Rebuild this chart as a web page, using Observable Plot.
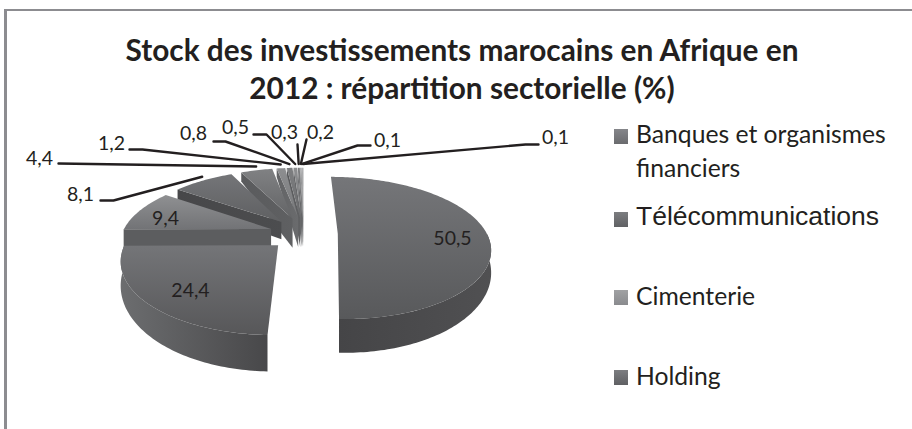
<!DOCTYPE html>
<html><head><meta charset="utf-8">
<script src="https://cdn.jsdelivr.net/npm/d3@7"></script>
<script src="https://cdn.jsdelivr.net/npm/@observablehq/plot@0.6"></script>
<style>
html,body{margin:0;padding:0;background:#fff}
#page{position:relative;width:912px;height:429px;overflow:hidden;font-family:Lato,sans-serif;color:#231f20}
#frame{position:absolute;left:4px;top:9px;width:912px;height:430px;border-left:3px solid #8c8c90;border-top:2.5px solid #8c8c90;box-sizing:border-box}
#page svg{position:absolute;left:0;top:0}
h1{position:absolute;left:62px;width:800px;top:31px;margin:0;text-align:center;font:bold 29.8px/38px Lato,sans-serif}
.lg{position:absolute;font-size:24.7px;line-height:34px;left:636px;white-space:nowrap}
.sw{position:absolute;left:614px;width:14px;height:15px}
</style></head><body>
<div id="page"><div id="frame"></div></div>
<script>
const values = [50.5, 24.4, 9.4, 8.1, 4.4, 1.2, 0.8, 0.5, 0.3, 0.2, 0.1, 0.1];
const valueLabels = ["50,5","24,4","9,4","8,1","4,4","1,2","0,8","0,5","0,3","0,2","0,1","0,1"];
const titleLines = ["Stock des investissements marocains en Afrique en", "2012 : répartition sectorielle (%)"];
const legendLabels = ["Banques et organismes", "financiers", "Télécommunications", "Cimenterie", "Holding"];

// Style of each slice: [top light, top dark, wall light, wall dark]
const sliceColors = [
  ["#757679","#58595b","#454547","#505052"],
  ["#747578","#575759","#6c6d6f","#48484a"],
  ["#8f9092","#727376","#5c5d5f","#5c5d5f"],
  ["#747578","#5f6062","#474749","#4c4d4f"],
  ["#808183","#636466","#5a5b5d","#5f6062"],
  ["#8d8e90","#77787a","#636466","#6a6b6d"],
  ["#7d7e80","#6a6b6d","#58595b","#606163"],
  ["#8d8e90","#77787a","#636466","#6a6b6d"],
  ["#7d7e80","#6a6b6d","#58595b","#606163"],
  ["#9a9b9d","#808183","#636466","#6a6b6d"],
  ["#8d8e90","#77787a","#6a6b6d","#707173"],
  ["#a0a1a3","#8a8b8d","#74757a","#808183"]
];
// Perspective pie layout
const cx = 303, cy = 233, Rx = 149, Ry = 71, explode = 0.23, persp = 0.2, depthBase = 19.5, thinApexDrop = 12;
// Placement of outside labels: [label x, label y, leader start x, leader start y, knee x, knee y]
const labelLayout = {
  4:[39,158,58,163,58,163],
  3:[80,194,100,200,113,200],
  5:[111,143,129,149,142,149],
  6:[193,133,213,141,225,141],
  7:[235,127,253,134,266,134],
  8:[284,132,297,144,297,144],
  9:[320,132,306,139,306,139],
  10:[387,140,370,145,357,145],
  11:[555,137,538,144,525,144]
};
const insideLabels = {0:[452,238], 1:[190,290], 2:[165,218]};

const total = d3.sum(values);
let acc = 0;
const slices = values.map((v,i) => {
  const a0 = acc/total*2*Math.PI; acc += v;
  const a1 = acc/total*2*Math.PI;
  return {i, a0, a1, mid:(a0+a1)/2};
});
function project(s, rho, a, drop){
  const u = rho*Math.sin(a) + explode*Math.sin(s.mid);
  const v = -rho*Math.cos(a) - explode*Math.cos(s.mid);
  const k = 1 + persp*v;
  return {x: cx + u*Rx*k, y: cy + v*Ry*k + (drop ? depthBase*k*k*k : 0)};
}
function arc(s, from, to, drop){
  const n = Math.max(2, Math.ceil((to-from)/0.02));
  return d3.range(n+1).map(j => project(s, 1, from+(to-from)*j/n, drop));
}
const pieces = [];
const gradient = [];
slices.slice().sort((p,q)=>{
  const rank = s => s.i===0 ? -2 : s.i===1 ? -1 : s.i;
  return rank(q)-rank(p);
}).forEach(s => {
  const col = sliceColors[s.i];
  gradient.push(`<linearGradient id="t${s.i}" x1="0" y1="0" x2="0" y2="1"><stop offset="0" stop-color="${col[0]}"/><stop offset="1" stop-color="${col[1]}"/></linearGradient>`);
  gradient.push(`<linearGradient id="w${s.i}" x1="0" y1="0" x2="1" y2="0"><stop offset="0" stop-color="${col[2]}"/><stop offset="1" stop-color="${col[3]}"/></linearGradient>`);
  if (s.i >= 2) {
    const apex = project(s,0,0,true);
    if (s.i >= 4) apex.y += thinApexDrop;
    pieces.push({fill:`url(#w${s.i})`, pts:[project(s,0,0,false),project(s,1,s.a0,false),project(s,1,s.a0,true),apex]});
  }
  const from = Math.max(s.a0, Math.PI/2), to = Math.min(s.a1, 1.5*Math.PI);
  if (to > from) {
    pieces.push({fill:`url(#w${s.i})`, pts:[...arc(s,from,to,false), ...arc(s,from,to,true).reverse()]});
  }
  pieces.push({fill:`url(#t${s.i})`, pts:[project(s,0,0,false), ...arc(s,s.a0,s.a1,false)]});
});

const leaders = Object.entries(labelLayout).map(([i,l]) => {
  const s = slices[+i], p = project(s,1.02,s.mid,false);
  return [{x:l[2],y:l[3]},{x:l[4],y:l[5]},{x:p.x,y:p.y-3}];
});
const textRows = [
  ...Object.entries(labelLayout).map(([i,l]) => ({x:l[0],y:l[1],t:valueLabels[+i]})),
  ...Object.entries(insideLabels).map(([i,l]) => ({x:l[0],y:l[1],t:valueLabels[+i]}))
];

const chart = Plot.plot({
  width:912, height:429, margin:0,
  x:{domain:[0,912],range:[0,912],axis:null},
  y:{domain:[0,429],range:[0,429],axis:null},
  style:{background:"transparent"},
  marks:[
    () => { const g = d3.create("svg:defs"); g.html(gradient.join("")); return g.node(); },
    ...pieces.map(p => Plot.line(p.pts,{x:"x",y:"y",fill:p.fill,stroke:"none"})),
    ...leaders.map(l => Plot.line(l,{x:"x",y:"y",stroke:"#231f20",strokeWidth:2.4,curve:"linear"})),
    Plot.text(textRows,{x:"x",y:"y",text:"t",fontSize:19.5,fontFamily:"Lato, sans-serif",fill:"#231f20",textAnchor:"middle",lineAnchor:"middle"})
  ]
});
const page = document.getElementById("page");
page.appendChild(chart);
const h = document.createElement("h1");
h.innerHTML = titleLines.join("<br>");
page.appendChild(h);
const lg = [[legendLabels[0],117,129,"#85868a","#6a6b6e"],[legendLabels[1],151],[legendLabels[2],199,212,"#7c7d80","#606164"],[legendLabels[3],279,290,"#a0a1a3","#8a8b8e"],[legendLabels[4],359,370,"#7c7d80","#5f6063"]];
lg.forEach(([t,y,sy,c0,c1],i) => {
  const d = document.createElement("div");
  d.className = "lg"; d.style.top = y+"px"; d.textContent = t;
  if (i===2){ d.style.fontFamily = "'Liberation Sans',sans-serif"; d.style.fontSize = "26.5px"; }
  page.appendChild(d);
  if (sy){
    const b = document.createElement("div");
    b.className = "sw"; b.style.top = sy+"px";
    b.style.background = `linear-gradient(${c0},${c1})`;
    page.appendChild(b);
  }
});
</script>
</body></html>
